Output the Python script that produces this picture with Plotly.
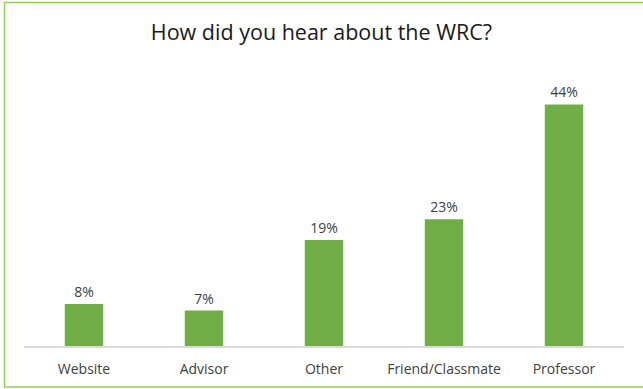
import plotly.graph_objects as go

categories = ["Website", "Advisor", "Other", "Friend/Classmate", "Professor"]
values = [7.65, 6.45, 19.3, 23.1, 44.0]
labels = ["8%", "7%", "19%", "23%", "44%"]

W, H = 643, 389
L, R, T, B = 24, 19, 60, 43
pw, ph = W - L - R, H - T - B

def px_x(p):
    return (p - L) / pw

def px_y(p):
    return (H - B - p) / ph

fig = go.Figure(go.Bar(
    x=categories, y=values, text=labels, textposition="outside",
    marker=dict(color="#70AD47", line=dict(width=0)),
    textfont=dict(family="Open Sans", size=14, color="#404040"),
    cliponaxis=False,
))

fig.update_layout(
    width=W, height=H,
    margin=dict(l=L, r=R, t=T, b=B),
    paper_bgcolor="white", plot_bgcolor="white",
    bargap=0.68,
    showlegend=False,
    title=dict(text="How did you hear about the WRC?", x=0.5, xanchor="center",
               y=1 - 32 / H, yanchor="middle",
               font=dict(family="Open Sans", size=21.5, color="#1a1a1a")),
    xaxis=dict(showline=True, linecolor="#D9D9D9", linewidth=1.5, ticks="outside",
               ticklen=9, tickcolor="rgba(0,0,0,0)",
               tickfont=dict(family="Open Sans", size=14, color="#404040"),
               showgrid=False, zeroline=False),
    yaxis=dict(range=[0, 52.1], visible=False, showgrid=False, zeroline=False),
    shapes=[dict(type="rect", xref="paper", yref="paper",
                 x0=px_x(4.5), x1=px_x(650), y0=px_y(387), y1=px_y(2.5),
                 line=dict(color="#92D050", width=1.5), layer="above")],
)

fig.write_html("out.html", config={"displayModeBar": False},
               post_script="document.body.style.margin='0';")
